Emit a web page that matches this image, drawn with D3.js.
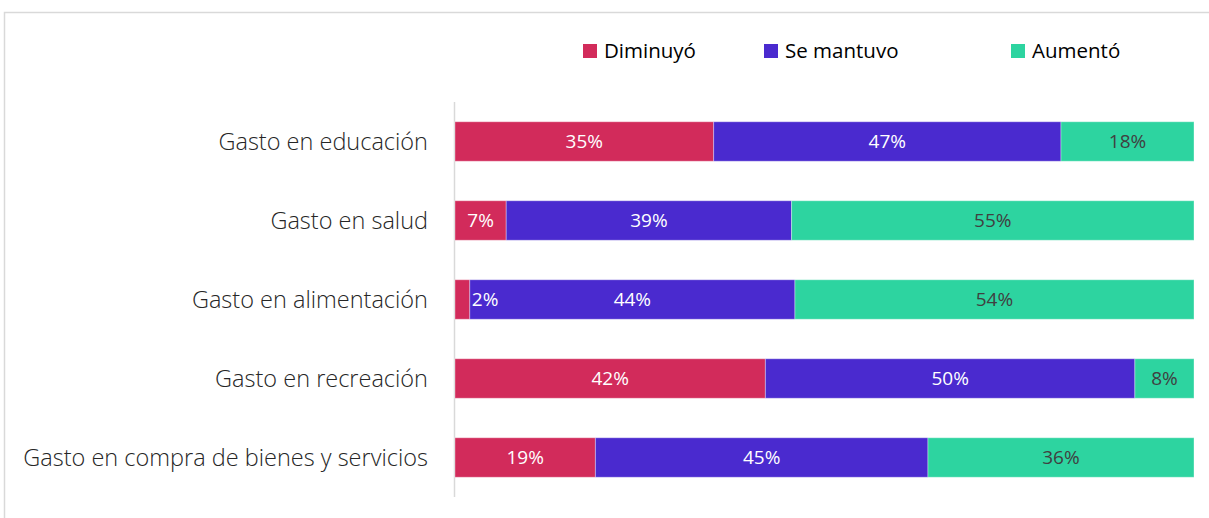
<!DOCTYPE html>
<html>
<head>
<meta charset="utf-8">
<script src="https://cdn.jsdelivr.net/npm/d3@7"></script>
<style>
  body { margin: 0; background: #fff; }
  svg { display: block; font-family: "Open Sans", Lato, sans-serif; }
</style>
</head>
<body>
<div id="vis"></div>
<script>
// data
const categories = [
  "Gasto en educación",
  "Gasto en salud",
  "Gasto en alimentación",
  "Gasto en recreación",
  "Gasto en compra de bienes y servicios"
];
const seriesNames = ["Diminuyó", "Se mantuvo", "Aumentó"];
const diminuyo = [35, 7, 2, 42, 19];
const seMantuvo = [47, 39, 44, 50, 45];
const aumento = [18, 55, 54, 8, 36];

const colors = ["#D22B5B", "#4A2ACF", "#2DD4A0"];
const labelColors = ["#ffffff", "#ffffff", "#404040"];

const width = 1209, height = 518;
const margin = { top: 102, right: 15, bottom: 21, left: 455 };

const rows = categories.map((c, i) => ({
  cat: c,
  "Diminuyó": diminuyo[i],
  "Se mantuvo": seMantuvo[i],
  "Aumentó": aumento[i]
}));

const stacked = d3.stack()
  .keys(seriesNames)
  .offset(d3.stackOffsetExpand)(rows);

const svg = d3.select("#vis").append("svg")
  .attr("width", width)
  .attr("height", height);

// chart border
svg.append("rect")
  .attr("x", 4.5).attr("y", 12.5)
  .attr("width", 1230).attr("height", 530)
  .attr("fill", "none")
  .attr("stroke", "#d9d9d9")
  .attr("stroke-width", 1.5);

const x = d3.scaleLinear().domain([0, 1]).range([margin.left, 1194]);
const y = d3.scaleBand()
  .domain(categories)
  .range([margin.top, height - margin.bottom])
  .paddingInner(0.5)
  .paddingOuter(0.25);

// axis line
svg.append("line")
  .attr("x1", margin.left - 0.5).attr("x2", margin.left - 0.5)
  .attr("y1", margin.top).attr("y2", height - margin.bottom)
  .attr("stroke", "#d9d9d9").attr("stroke-width", 1.5);

// category labels
svg.append("g").selectAll("text")
  .data(categories)
  .join("text")
  .attr("x", 428)
  .attr("y", d => y(d) + y.bandwidth() / 2)
  .attr("dy", "0.35em")
  .attr("text-anchor", "end")
  .attr("font-size", 23.5)
  .attr("font-weight", 300)
  .attr("fill", "#262626")
  .text(d => d);

// bars
const groups = svg.append("g").selectAll("g")
  .data(stacked)
  .join("g")
  .attr("fill", (d, i) => colors[i]);

groups.selectAll("rect")
  .data(d => d)
  .join("rect")
  .attr("x", d => x(d[0]))
  .attr("y", d => y(d.data.cat))
  .attr("width", d => x(d[1]) - x(d[0]))
  .attr("height", y.bandwidth())
  .attr("stroke", "#ffffff")
  .attr("stroke-opacity", 0.35)
  .attr("stroke-width", 1);

// value labels
stacked.forEach((s, si) => {
  svg.append("g").selectAll("text")
    .data(s)
    .join("text")
    .attr("y", d => y(d.data.cat) + y.bandwidth() / 2)
    .attr("dy", "0.35em")
    .attr("font-size", 19)
    .attr("fill", labelColors[si])
    .text(d => d.data[s.key] + "%")
    .each(function (d) {
      const t = d3.select(this);
      const w = this.getComputedTextLength();
      const segW = x(d[1]) - x(d[0]);
      if (segW < w + 4) {
        // too narrow: place right after the segment
        t.attr("x", x(d[1]) + 2).attr("text-anchor", "start")
          .attr("fill", "#ffffff");
      } else {
        t.attr("x", (x(d[0]) + x(d[1])) / 2).attr("text-anchor", "middle");
      }
    });
});

// legend
const legendX = [583, 764, 1011];
const legend = svg.append("g").selectAll("g")
  .data(seriesNames)
  .join("g")
  .attr("transform", (d, i) => `translate(${legendX[i]},44)`);

legend.append("rect")
  .attr("width", 14).attr("height", 14)
  .attr("fill", (d, i) => colors[i]);

legend.append("text")
  .attr("x", 21).attr("y", 7)
  .attr("dy", "0.35em")
  .attr("font-size", 20.5)
  .attr("fill", "#000")
  .text(d => d);
</script>
</body>
</html>
